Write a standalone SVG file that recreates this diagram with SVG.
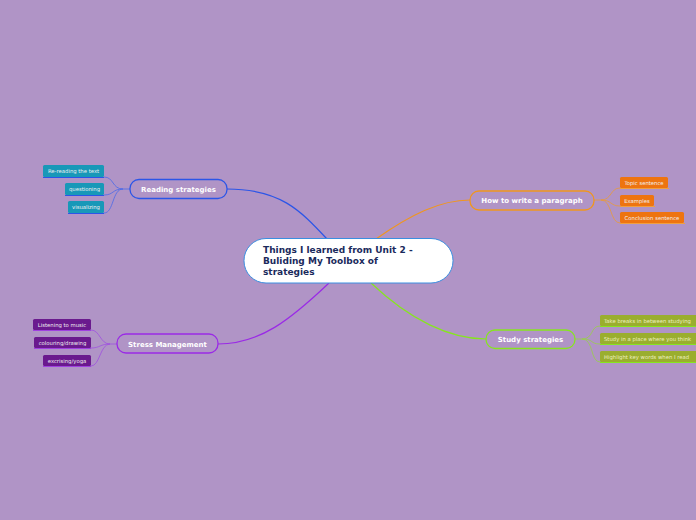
<svg xmlns="http://www.w3.org/2000/svg" width="696" height="520" viewBox="0 0 696 520">
<style>
text{font-family:"DejaVu Sans","Verdana",sans-serif;font-weight:bold}
.main{fill:#b094c6;stroke-width:1.3}
.mt{fill:#ffffff;font-size:7px;text-anchor:middle}
.st{font-size:5.3px;font-weight:normal;fill:#f0f0f0;text-anchor:middle}
.sl{font-size:5.3px;font-weight:normal;fill:#eef0c0}
.c{fill:none;stroke-width:1.2}
.s{fill:none;stroke-width:0.8}
</style>
<rect width="696" height="520" fill="#b094c6"/>
<g id="connectors">
<path class="c" stroke="#2b55e8" d="M227,189 C280,189 300,210 327,239"/>
<path class="c" stroke="#f0961e" d="M376,239 C410,215 440,200 470,200"/>
<path class="c" stroke="#86e61e" d="M371,283 C410,320 450,339 486,339"/>
<path class="c" stroke="#9a2ae6" d="M329,283 C290,320 260,344 218,344"/>
<g stroke="#4a6ae8" class="s">
<path d="M130,189 L123,189 C112,189 114,177 104,177"/>
<path d="M123,189 C112,189 114,195 104,195"/>
<path d="M123,189 C112,189 114,213 104,213"/>
</g>
<g stroke="#e89a3a" class="s">
<path d="M594,200 L601,200 C612,200 610,188 620,188"/>
<path d="M601,200 C612,200 610,206 620,206"/>
<path d="M601,200 C612,200 610,223 620,223"/>
</g>
<g stroke="#98d048" class="s">
<path d="M575,339 L582,339 C594,339 590,326 600,326"/>
<path d="M582,339 C594,339 590,344 600,344"/>
<path d="M582,339 C594,339 590,362 600,362"/>
</g>
<g stroke="#a050e0" class="s">
<path d="M117,344 L110,344 C100,344 100,330 91,330"/>
<path d="M110,344 C100,344 100,348 91,348"/>
<path d="M110,344 C100,344 100,366 91,366"/>
</g>
</g>
<g id="central">
<rect x="244" y="238.5" width="209" height="44.5" rx="22" fill="#ffffff" stroke="#3a8ee0" stroke-width="1"/>
<text font-size="9px" fill="#1a2a5c"><tspan x="263" y="253">Things I learned from Unit 2 -</tspan><tspan x="263" y="264">Buliding My Toolbox of</tspan><tspan x="263" y="275">strategies</tspan></text>
</g>
<g id="reading">
<rect class="main" x="130" y="179.5" width="97" height="19" rx="9" fill="#9d80c2" stroke="#2b55e8"/>
<text class="mt" x="178.5" y="192">Reading strategies</text>
</g>
<g id="reading-1">
<rect x="43" y="165" width="61" height="12" rx="1.5" fill="#1898b8"/>
<line x1="43" y1="177.5" x2="104" y2="177.5" stroke="#2b55e8" stroke-width="1"/>
<text class="st" x="73.5" y="173">Re-reading the text</text>
</g>
<g id="reading-2">
<rect x="65" y="183" width="39" height="12" rx="1.5" fill="#1898b8"/>
<line x1="65" y1="195.5" x2="104" y2="195.5" stroke="#2b55e8" stroke-width="1"/>
<text class="st" x="84.5" y="191">questioning</text>
</g>
<g id="reading-3">
<rect x="68" y="201" width="36" height="12" rx="1.5" fill="#1898b8"/>
<line x1="68" y1="213.5" x2="104" y2="213.5" stroke="#2b55e8" stroke-width="1"/>
<text class="st" x="86" y="209">visualizing</text>
</g>
<g id="paragraph">
<rect class="main" x="470" y="191" width="124" height="19" rx="9" fill="#b094c6" stroke="#f0961e"/>
<text class="mt" x="532" y="203">How to write a paragraph</text>
</g>
<g id="paragraph-1">
<rect x="620" y="177" width="48" height="11" rx="1.5" fill="#ee7410"/>
<line x1="620" y1="188.5" x2="669" y2="188.5" stroke="#f0a040" stroke-width="1"/>
<text class="st" x="644" y="184.5">Topic sentence</text>
</g>
<g id="paragraph-2">
<rect x="620" y="195" width="34" height="11" rx="1.5" fill="#ee7410"/>
<line x1="620" y1="206.5" x2="655" y2="206.5" stroke="#f0a040" stroke-width="1"/>
<text class="st" x="637" y="202.5">Examples</text>
</g>
<g id="paragraph-3">
<rect x="620" y="212" width="64" height="11" rx="1.5" fill="#ee7410"/>
<line x1="620" y1="223.5" x2="685" y2="223.5" stroke="#f0a040" stroke-width="1"/>
<text class="st" x="652" y="219.5">Conclusion sentence</text>
</g>
<g id="study">
<rect class="main" x="486" y="330" width="89" height="18.5" rx="9" fill="#b094c6" stroke="#86e61e"/>
<text class="mt" x="530.5" y="342">Study strategies</text>
</g>
<g id="study-1">
<rect x="600" y="315" width="100" height="11" rx="1.5" fill="#9aae2e"/>
<line x1="600" y1="326.5" x2="696" y2="326.5" stroke="#86e61e" stroke-width="1"/>
<text class="sl" x="604" y="322.5">Take breaks in between studying</text>
</g>
<g id="study-2">
<rect x="600" y="333" width="100" height="11" rx="1.5" fill="#9aae2e"/>
<line x1="600" y1="344.5" x2="696" y2="344.5" stroke="#86e61e" stroke-width="1"/>
<text class="sl" x="604" y="340.5">Study in a place where you think</text>
</g>
<g id="study-3">
<rect x="600" y="351" width="100" height="11" rx="1.5" fill="#9aae2e"/>
<line x1="600" y1="362.5" x2="696" y2="362.5" stroke="#86e61e" stroke-width="1"/>
<text class="sl" x="604" y="358.5">Highlight key words when I read</text>
</g>
<g id="stress">
<rect class="main" x="117" y="334" width="101" height="19" rx="9" fill="#9d80c2" stroke="#9a2ae6"/>
<text class="mt" x="167.5" y="346.5">Stress Management</text>
</g>
<g id="stress-1">
<rect x="33" y="319" width="58" height="11" rx="1.5" fill="#6a1a8e"/>
<line x1="33" y1="330.5" x2="91" y2="330.5" stroke="#a040e0" stroke-width="1"/>
<text class="st" x="62" y="326.5">Listening to music</text>
</g>
<g id="stress-2">
<rect x="34" y="337" width="57" height="11" rx="1.5" fill="#6a1a8e"/>
<line x1="34" y1="348.5" x2="91" y2="348.5" stroke="#a040e0" stroke-width="1"/>
<text class="st" x="62.5" y="344.5">colouring/drawing</text>
</g>
<g id="stress-3">
<rect x="43" y="355" width="48" height="11" rx="1.5" fill="#6a1a8e"/>
<line x1="43" y1="366.5" x2="91" y2="366.5" stroke="#a040e0" stroke-width="1"/>
<text class="st" x="67" y="362.5">excrising/yoga</text>
</g>
</svg>
